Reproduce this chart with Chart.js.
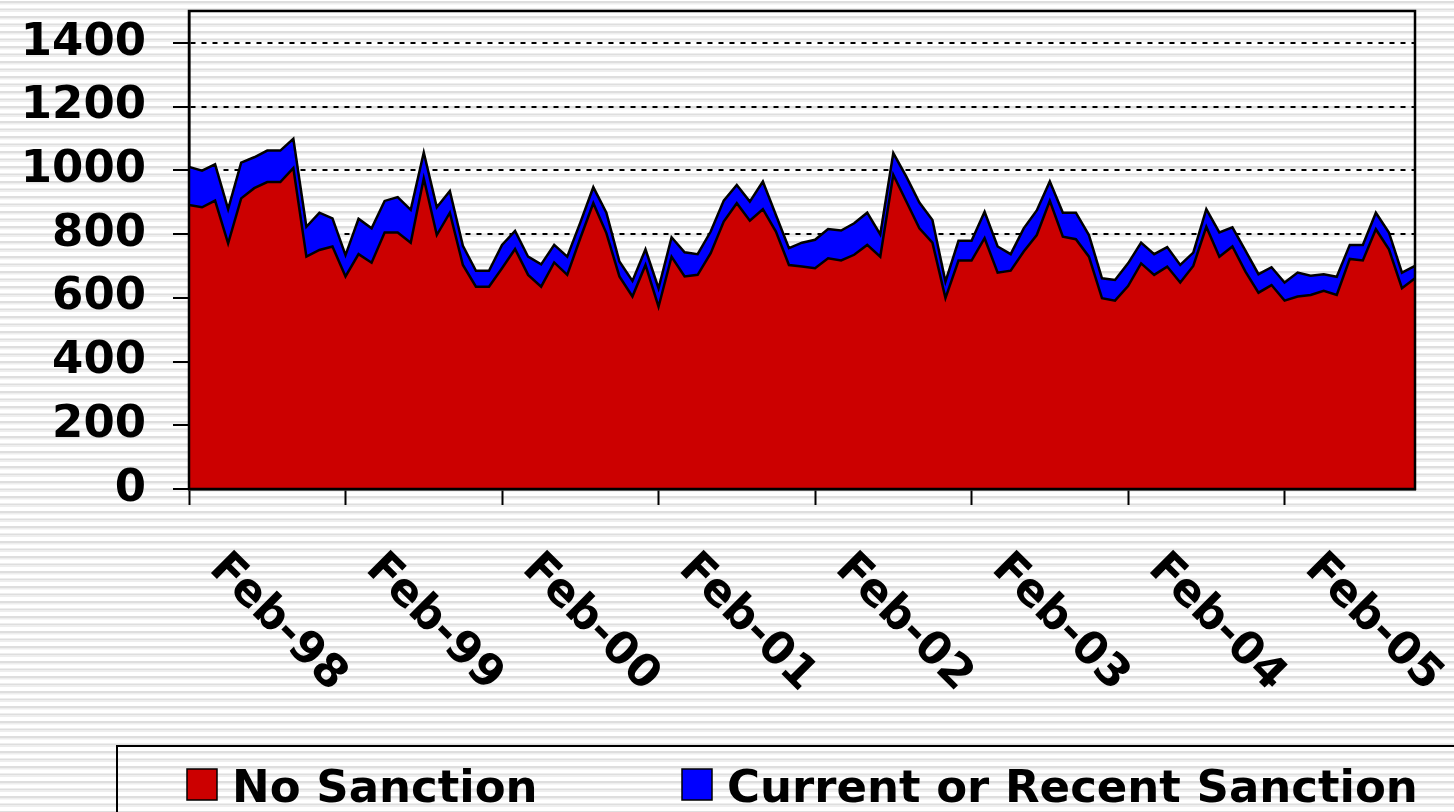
<!DOCTYPE html>
<html>
<head>
<meta charset="utf-8">
<script src="https://cdn.jsdelivr.net/npm/chart.js@4.4.1/dist/chart.umd.min.js"></script>
<style>
  html, body { margin: 0; padding: 0; background: #fff; }
  #wrap { width: 1454px; height: 812px; position: relative; }
</style>
</head>
<body>
<div id="wrap"><canvas id="sanctionChart"></canvas></div>
<script>
// monthly series, Feb-98 .. Dec-05
const noSanction = [
  891, 884, 905, 771, 912, 944, 963, 963, 1007, 729, 750, 761,
  667, 737, 710, 805, 805, 773, 975, 797, 867, 703, 635, 635,
  693, 753, 672, 635, 711, 672, 787, 897, 803, 667, 604, 703,
  572, 729, 667, 672, 740, 839, 897, 842, 878, 808, 703, 698,
  693, 724, 717, 735, 766, 729, 986, 902, 818, 773, 599, 717,
  717, 787, 679, 685, 745, 797, 904, 792, 784, 729, 599, 591,
  637, 708, 672, 698, 648, 700, 823, 729, 761, 682, 616, 640,
  591, 604, 609, 622, 609, 722, 717, 815, 752, 630, 661
];
const recentSanction = [
  120, 115, 114, 107, 112, 97, 99, 99, 92, 94, 117, 88,
  67, 111, 108, 99, 111, 103, 81, 87, 68, 60, 50, 50,
  73, 57, 57, 70, 55, 57, 49, 50, 64, 47, 49, 49,
  58, 61, 76, 65, 68, 66, 57, 60, 87, 52, 53, 75,
  89, 92, 94, 99, 101, 70, 68, 78, 81, 71, 52, 62,
  62, 83, 82, 52, 73, 77, 61, 75, 83, 68, 62, 65,
  71, 65, 65, 61, 55, 42, 55, 76, 60, 66, 58, 56,
  57, 75, 60, 52, 57, 44, 49, 52, 53, 49, 39
];
const seriesNames = ['No Sanction', 'Current or Recent Sanction'];
const seriesColors = ['#cc0000', '#0000ff'];
const yTickValues = [0, 200, 400, 600, 800, 1000, 1200, 1400];
const monthNames = ['Jan', 'Feb', 'Mar', 'Apr', 'May', 'Jun', 'Jul', 'Aug', 'Sep', 'Oct', 'Nov', 'Dec'];

const monthLabels = noSanction.map((_, i) => {
  const m = (1 + i) % 12;
  const yr = (98 + Math.floor((1 + i) / 12)) % 100;
  return monthNames[m] + '-' + String(yr).padStart(2, '0');
});

const FONT = { family: 'DejaVu Sans', weight: 'bold', size: 45 };
const fontStr = 'bold 45px "DejaVu Sans"';

const stripeBackground = {
  id: 'stripeBackground',
  beforeDraw(chart) {
    const { ctx, width, height } = chart;
    ctx.save();
    ctx.fillStyle = '#ffffff';
    ctx.fillRect(0, 0, width, height);
    for (let y = 1; y < height; y += 7.5) {
      ctx.fillStyle = '#dedede';
      ctx.fillRect(0, y, width, 2);
      ctx.fillStyle = '#eeeeee';
      ctx.fillRect(0, y + 2, width, 1.5);
    }
    ctx.restore();
  }
};

const frameAndLabels = {
  id: 'frameAndLabels',
  afterDraw(chart) {
    const { ctx, chartArea: a } = chart;
    const xs = chart.scales.x;
    ctx.save();
    // plot frame
    ctx.strokeStyle = '#000';
    ctx.lineWidth = 2.5;
    ctx.strokeRect(a.left, a.top, a.right - a.left, a.bottom - a.top);

    // rotated year labels
    ctx.fillStyle = '#000';
    ctx.font = fontStr;
    ctx.textAlign = 'left';
    ctx.textBaseline = 'alphabetic';
    monthLabels.forEach((lab, i) => {
      if (i % 12 !== 0) return;
      const x = xs.getPixelForValue(i);
      ctx.save();
      ctx.translate(x + 19, a.bottom + 81);
      ctx.rotate(Math.PI / 4);
      ctx.fillText(lab, 0, 0);
      ctx.restore();
    });

    // legend
    ctx.lineWidth = 2;
    ctx.strokeRect(117, 746, 1400, 120);
    const boxX = [187, 682];
    seriesNames.forEach((name, i) => {
      ctx.fillStyle = seriesColors[i];
      ctx.fillRect(boxX[i], 769, 30, 31);
      ctx.lineWidth = 1.5;
      ctx.strokeRect(boxX[i], 769, 30, 31);
      ctx.fillStyle = '#000';
      ctx.fillText(name, boxX[i] + 45, 802);
    });
    ctx.restore();
  }
};

new Chart(document.getElementById('sanctionChart'), {
  type: 'line',
  data: {
    labels: monthLabels,
    datasets: [
      {
        label: seriesNames[0],
        data: noSanction,
        fill: 'origin',
        backgroundColor: seriesColors[0],
        borderColor: '#000',
        borderWidth: 2.5,
        pointRadius: 0,
        tension: 0
      },
      {
        label: seriesNames[1],
        data: recentSanction,
        fill: '-1',
        backgroundColor: seriesColors[1],
        borderColor: '#000',
        borderWidth: 2.5,
        pointRadius: 0,
        tension: 0
      }
    ]
  },
  options: {
    responsive: true,
    maintainAspectRatio: false,
    animation: false,
    layout: { padding: { top: 11, right: 39, bottom: 307, left: 0 } },
    plugins: {
      legend: { display: false },
      tooltip: { enabled: false }
    },
    scales: {
      x: {
        type: 'category',
        offset: false,
        ticks: { display: false, autoSkip: false },
        grid: {
          drawOnChartArea: false,
          drawTicks: true,
          tickLength: 16,
          tickWidth: 2,
          tickColor: (c) => (c.index % 12 === 0 ? '#000' : 'rgba(0,0,0,0)')
        },
        border: { display: true, color: '#000', width: 2.5 }
      },
      y: {
        stacked: true,
        min: 0,
        max: 1500,
        ticks: {
          padding: 27,
          color: '#000',
          font: FONT,
          callback: (v) => String(v)
        },
        grid: { color: '#000', lineWidth: 2, tickLength: 16, tickWidth: 2, tickColor: '#000' },
        border: { display: true, color: '#000', width: 2.5, dash: [5, 6] },
        afterBuildTicks: (s) => { s.ticks = yTickValues.map((v) => ({ value: v })); },
        afterFit: (s) => { s.width = 189; s.paddingTop = 0; s.paddingBottom = 0; }
      }
    }
  },
  plugins: [stripeBackground, frameAndLabels]
});
</script>
</body>
</html>
